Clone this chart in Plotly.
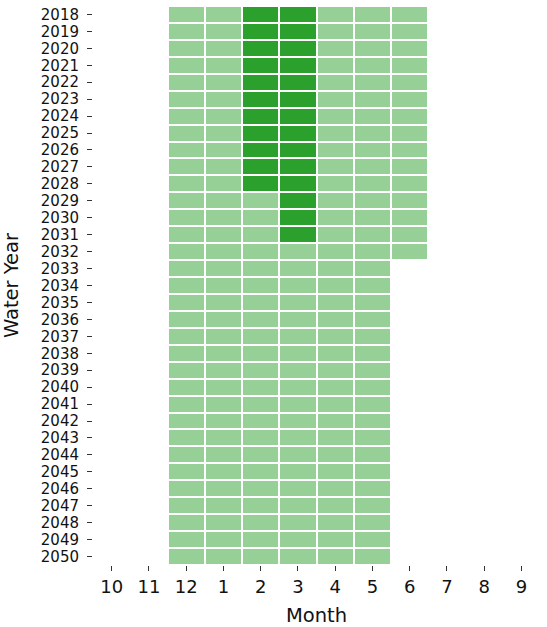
import plotly.graph_objects as go

# Water-year months (Oct .. Sep) and the years shown
months = ["10", "11", "12", "1", "2", "3", "4", "5", "6", "7", "8", "9"]
years = list(range(2018, 2051))
year_labels = [str(y) for y in years]

# Last year each month is active (light cells); months not listed are empty
active_through = {"12": 2050, "1": 2050, "2": 2050, "3": 2050, "4": 2050, "5": 2050, "6": 2032}
# Last year each month is in the high state (dark cells)
high_through = {"2": 2028, "3": 2031}

LIGHT = "#96d096"
DARK = "#2ca02c"

z = []
for y in years:
    row = []
    for m in months:
        if m in high_through and y <= high_through[m]:
            row.append(2)
        elif m in active_through and y <= active_through[m]:
            row.append(1)
        else:
            row.append(None)
    z.append(row)

fig = go.Figure(
    go.Heatmap(
        z=z,
        x=months,
        y=year_labels,
        zmin=1,
        zmax=2,
        colorscale=[[0, LIGHT], [0.5, LIGHT], [0.5, DARK], [1, DARK]],
        showscale=False,
        xgap=2,
        ygap=2,
        hoverongaps=False,
    )
)

year_font = dict(family="DejaVu Sans", size=15, color="#111111")
month_font = dict(family="DejaVu Sans", size=18, color="#111111")
title_font = dict(family="DejaVu Sans", size=19.5, color="#111111")

fig.update_layout(
    width=547,
    height=627,
    margin=dict(l=93, r=7, t=6, b=62),
    paper_bgcolor="white",
    plot_bgcolor="white",
    font=month_font,
    xaxis=dict(
        type="category",
        automargin=False,
        tickmode="array",
        tickvals=months,
        ticktext=months,
        title=dict(text="Month", font=title_font, standoff=12),
        ticks="outside",
        ticklen=5,
        tickwidth=1.2,
        tickcolor="#333333",
        showgrid=False,
        zeroline=False,
        showline=False,
        tickfont=month_font,
    ),
    yaxis=dict(
        type="category",
        automargin=False,
        autorange="reversed",
        tickmode="array",
        tickvals=year_labels,
        ticktext=year_labels,
        title=dict(text="Water Year", font=title_font, standoff=18),
        ticks="outside",
        ticklen=5,
        tickwidth=1.2,
        tickcolor="#333333",
        ticklabelstandoff=5,
        showgrid=False,
        zeroline=False,
        showline=False,
        tickfont=year_font,
    ),
)

fig.write_html("out.html")
